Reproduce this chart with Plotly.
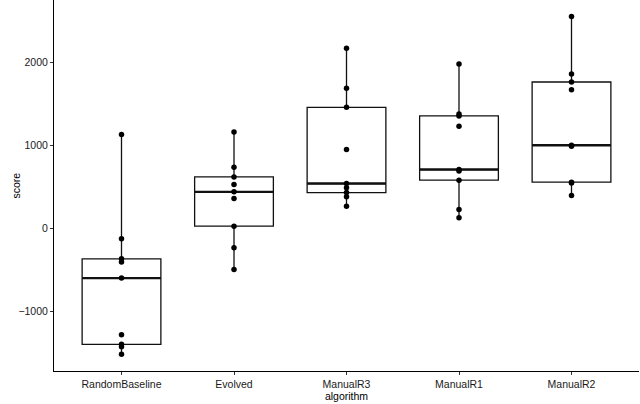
import numpy as np
import plotly.graph_objects as go

categories = ["RandomBaseline", "Evolved", "ManualR3", "ManualR1", "ManualR2"]
random_baseline = [1130, -124, -364, -404, -596, -1276, -1392, -1420, -1512]
evolved = [1160, 736, 620, 528, 440, 360, 28, -232, -492]
manual_r3 = [2164, 1684, 1456, 948, 540, 488, 432, 380, 268]
manual_r1 = [1976, 1376, 1352, 1228, 708, 692, 580, 228, 128]
manual_r2 = [2548, 1856, 1760, 1668, 1000, 988, 556, 548, 396]
y_tickvals = [-1000, 0, 1000, 2000]
y_ticktext = ["\u22121000", "0", "1000", "2000"]

series = [random_baseline, evolved, manual_r3, manual_r1, manual_r2]

xs, ys = [], []
for i, vals in enumerate(series):
    xs += [i] * len(vals)
    ys += vals

box_w = 0.7
fig = go.Figure()
fig.add_trace(go.Box(
    x=xs, y=ys, width=box_w, boxpoints=False, quartilemethod="inclusive",
    fillcolor="white", line=dict(color="#111", width=1.3), whiskerwidth=0,
    showlegend=False, hoverinfo="skip",
))

mx, my = [], []
for i, vals in enumerate(series):
    m = float(np.median(vals))
    mx += [i - box_w / 2, i + box_w / 2, None]
    my += [m, m, None]
fig.add_trace(go.Scatter(x=mx, y=my, mode="lines", line=dict(color="#111", width=2.4),
                         showlegend=False, hoverinfo="skip"))

fig.add_trace(go.Scatter(x=xs, y=ys, mode="markers",
                         marker=dict(color="black", size=5.5), showlegend=False))

fig.update_layout(
    width=640, height=404,
    margin=dict(l=54, r=1, t=0, b=33),
    paper_bgcolor="white", plot_bgcolor="white",
    font=dict(family="Liberation Sans, Arial, sans-serif", size=10.5, color="#1a1a1a"),
)
fig.update_xaxes(
    range=[-0.6, 4.6], tickvals=list(range(len(categories))), ticktext=categories,
    showgrid=False, zeroline=False, showline=True, linecolor="black", linewidth=1,
    ticks="outside", ticklen=3, tickcolor="#333", automargin=False,
    tickfont=dict(size=10.5, color="#1a1a1a"),
    title=dict(text="algorithm", font=dict(size=10.5, color="black"), standoff=0),
)
fig.update_yaxes(
    range=[-1712, 2745], tickvals=y_tickvals, ticktext=y_ticktext,
    showgrid=False, zeroline=False, showline=True, linecolor="black", linewidth=1,
    ticks="outside", ticklen=3, tickcolor="#333", automargin=False,
    tickfont=dict(size=10.5, color="#1a1a1a"),
    title=dict(text="", font=dict(size=10.5, color="black")),
)
fig.add_annotation(text="score", xref="paper", yref="paper", x=0, y=0.5,
                   xanchor="center", yanchor="middle", xshift=-39, textangle=-90,
                   showarrow=False, font=dict(size=10.5, color="black"))

fig.write_html("out.html", config={"displayModeBar": False},
               post_script="document.body.style.margin='0';document.body.style.padding='0';")
